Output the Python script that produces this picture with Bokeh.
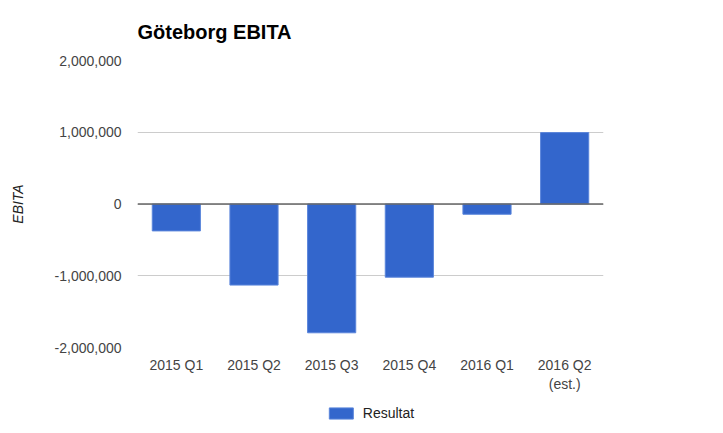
from bokeh.plotting import figure
from bokeh.layouts import column
from bokeh.models import FactorRange, Range1d, Span, Legend, LegendItem, FixedTicker, NumeralTickFormatter, ColumnDataSource
from bokeh.embed import file_html
from bokeh.resources import INLINE

title_text = "Göteborg EBITA"
y_label = "EBITA"
series_name = "Resultat"
categories = ["2015 Q1", "2015 Q2", "2015 Q3", "2015 Q4", "2016 Q1", "2016 Q2\n(est.)"]
values = [-375000, -1130000, -1795000, -1020000, -143000, 995000]
y_ticks = [-2000000, -1000000, 0, 1000000, 2000000]

FONT = "Liberation Sans"
BAR = "#3366cc"
EDGE = "#5a85db"

src = ColumnDataSource(dict(cat=categories, val=values))

p = figure(width=723, height=395, frame_width=466, frame_height=287,
           x_range=FactorRange(*categories),
           y_range=Range1d(-2000000, 2000000),
           output_backend="svg", toolbar_location=None,
           min_border_left=137, min_border_right=120,
           min_border_top=60, min_border_bottom=0)
p.outline_line_color = None
p.background_fill_color = "white"
p.border_fill_color = "white"

p.title.text = title_text
p.title.text_font = FONT
p.title.text_font_size = "20px"
p.title.text_font_style = "bold"
p.title.text_color = "#000000"
p.title.align = "left"
p.title.standoff = 36

r = p.vbar(x="cat", top="val", bottom=0, width=0.62, source=src,
           fill_color=BAR, line_color=EDGE, line_width=1)

p.add_layout(Span(location=0, dimension="width", line_color="#666666", line_width=1.5))

p.xgrid.grid_line_color = None
p.ygrid.grid_line_color = "#cccccc"
p.ygrid.grid_line_width = 1

p.yaxis.ticker = FixedTicker(ticks=y_ticks)
p.yaxis.formatter = NumeralTickFormatter(format="0,0")
for ax in (p.xaxis[0], p.yaxis[0]):
    ax.axis_line_color = None
    ax.major_tick_line_color = None
    ax.minor_tick_line_color = None
    ax.major_tick_out = 0
    ax.major_tick_in = 0
    ax.major_label_text_font = FONT
    ax.major_label_text_font_size = "14px"
    ax.major_label_text_color = "#444444"
p.yaxis.major_label_standoff = 16
p.xaxis.major_label_standoff = 9
p.yaxis.axis_label = y_label
p.yaxis.axis_label_text_font = FONT
p.yaxis.axis_label_text_font_size = "14px"
p.yaxis.axis_label_text_font_style = "italic"
p.yaxis.axis_label_text_color = "#222222"
p.yaxis.axis_label_standoff = 26

# legend strip below the chart; its bars lie outside its visible range
lg = figure(width=723, height=38, x_range=FactorRange(*categories),
            y_range=Range1d(3000000, 4000000),
            output_backend="svg", toolbar_location=None,
            min_border_left=17, min_border_right=0,
            min_border_top=0, min_border_bottom=0)
lg.outline_line_color = None
lg.axis.visible = False
lg.grid.visible = False
lg.border_fill_color = "white"
lg.background_fill_color = "white"
swatch = lg.vbar(x="cat", top="val", bottom=0, width=0.62, source=src,
                 fill_color=BAR, line_color=EDGE, line_width=1)

legend = Legend(items=[LegendItem(label=series_name, renderers=[swatch])],
                orientation="horizontal", location="center",
                glyph_width=30, glyph_height=14, label_height=14,
                label_text_font=FONT,
                label_text_font_size="14px", label_text_color="#222222",
                border_line_color=None, background_fill_alpha=0,
                margin=0, padding=0, label_standoff=7)
lg.add_layout(legend, "center")

layout = column(p, lg, spacing=0)
open("out.html", "w").write(file_html(layout, INLINE))
